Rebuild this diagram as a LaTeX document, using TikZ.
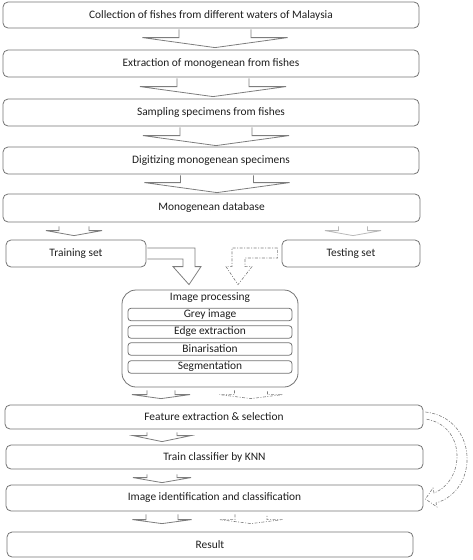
\documentclass[tikz,border=0pt]{standalone}
\usepackage{fontspec}
\setmainfont{Carlito}
\usetikzlibrary{calc}
\definecolor{bordc}{RGB}{115,115,115}
\definecolor{arrc}{RGB}{125,125,125}
\definecolor{lightarr}{RGB}{185,185,185}
\definecolor{txtc}{RGB}{30,30,30}
\tikzset{
  box/.style={draw=bordc, line width=0.8pt, rounded corners=5pt, inner sep=0pt,
    text=txtc, font=\fontsize{11.4}{13}\selectfont},
  subbox/.style={draw=bordc, line width=0.8pt, rounded corners=3pt, inner sep=0pt,
    minimum width=164pt, minimum height=12.5pt, text=txtc, font=\fontsize{11.4}{13}\selectfont},
  barr/.style={draw=arrc, line width=0.8pt, line join=miter},
  barrlight/.style={draw=lightarr, line width=0.8pt},
  dasharr/.style={draw=arrc, line width=0.6pt, dash pattern=on 3pt off 1.5pt on 1pt off 1.5pt},
}
% #1 style, #2 from node, #3 to node, #4 centre x, #5 shaft half width,
% #6 head half width, #7 gap below source, #8 head length, #9 gap above target
\newcommand\blockarr[9]{%
  \draw[#1] let \p1=(#2.south), \p2=(#3.north) in
    (#4pt-#5pt,\y1-#7pt) -- (#4pt-#5pt,\y2+#9pt+#8pt) -- (#4pt-#6pt,\y2+#9pt+#8pt)
    -- (#4pt,\y2+#9pt) -- (#4pt+#6pt,\y2+#9pt+#8pt) -- (#4pt+#5pt,\y2+#9pt+#8pt)
    -- (#4pt+#5pt,\y1-#7pt);}
\begin{document}
\begin{tikzpicture}[x=1pt,y=-1pt]
\useasboundingbox (0,0) rectangle (472,560);

% main boxes
\node[box, minimum width=416pt, minimum height=26pt] (b1) at (211,15) {Collection of fishes from different waters of Malaysia};
\node[box, minimum width=416pt, minimum height=27pt] (b2) at (211,63.5) {Extraction of monogenean from fishes};
\node[box, minimum width=416pt, minimum height=27pt] (b3) at (211,112.5) {Sampling specimens from fishes};
\node[box, minimum width=416pt, minimum height=27pt] (b4) at (211,160.5) {Digitizing monogenean specimens};
\node[box, minimum width=417pt, minimum height=28pt] (b5) at (211.5,208) {Monogenean database};
\node[box, minimum width=140pt, minimum height=27pt] (train) at (76,253.5) {Training set};
\node[box, minimum width=138pt, minimum height=27pt] (test) at (351,253.5) {Testing set};

% image processing group
\node[box, rounded corners=14pt, minimum width=176pt, minimum height=97pt] (ip) at (210,338.5) {};
\node[text=txtc, font=\fontsize{11.4}{13}\selectfont, inner sep=0pt] (iptitle) at (210,298) {Image processing};
\node[subbox] (grey) at (210,314.5) {Grey image};
\node[subbox] (edge) at (210,332) {Edge extraction};
\node[subbox] (bin) at (210,349) {Binarisation};
\node[subbox] (seg) at (210,367) {Segmentation};

\node[box, minimum width=418pt, minimum height=24pt] (feat) at (214,417) {Feature extraction \& selection};
\node[box, minimum width=417pt, minimum height=24pt] (knn) at (214.5,457) {Train classifier by KNN};
\node[box, minimum width=417pt, minimum height=26pt] (ident) at (214.5,498) {Image identification and classification};
\node[box, minimum width=406pt, minimum height=25pt] (res) at (210,544.5) {Result};

% straight block arrows
\blockarr{barr}{b1}{b2}{215}{36}{72.5}{1}{10}{2}
\blockarr{barr}{b2}{b3}{213}{36}{73}{1}{10}{2}
\blockarr{barr}{b3}{b4}{216}{36}{73}{1}{10}{1}
\blockarr{barr}{b4}{b5}{217}{36.5}{72.5}{1}{10}{1}
\blockarr{barr}{b5}{train}{74}{15}{28}{4}{5}{4}
\blockarr{barrlight}{b5}{test}{353}{14.5}{28}{4}{5}{4}
\blockarr{barr}{ip}{feat}{161}{14}{29}{3}{4}{6}
\blockarr{dasharr}{ip}{feat}{251}{16.5}{31.5}{3}{4}{6}
\blockarr{barr}{feat}{knn}{162}{15}{29}{3}{6}{3}
\blockarr{barr}{knn}{ident}{162}{15}{29}{5}{5}{2}
\blockarr{barr}{ident}{res}{162}{16}{29.5}{3}{4}{8}
\blockarr{dasharr}{ident}{res}{251}{16}{31.5}{3}{4}{8}

% bent arrow from training set
\draw[barr] let \p1=(train.east), \p2=(ip.north) in
  (\x1+1pt,\y1+5.5pt) -- (195pt,\y1+5.5pt) -- (195pt,\y2+23pt) -- (201pt,\y2+23pt)
  -- (189pt,\y2+5pt) -- (173pt,\y2+23pt) -- (183pt,\y2+23pt) -- (183pt,\y1-5.5pt)
  -- (\x1+1pt,\y1-5.5pt);

% dashed bent arrow from testing set
\draw[dasharr] let \p1=(test.west), \p2=(ip.north) in
  (\x1-4pt,\y1+5.5pt) -- (232pt,\y1+5.5pt) -- (232pt,\y2+23pt) -- (226pt,\y2+23pt)
  -- (238pt,\y2+5pt) -- (252pt,\y2+23pt) -- (245pt,\y2+23pt) -- (245pt,\y1-4.5pt)
  -- (\x1-4pt,\y1-4.5pt) -- cycle;

% curved hollow dashed arrow
\draw[dasharr] ($(feat.east)+(2,-5)$) .. controls (478,418) and (480,490) .. (436,503)
  -- (437,507) -- ($(ident.east)+(2,1)$) -- (433,488) -- (434,493)
  .. controls (466,480) and (466,425) .. ($(feat.east)+(2,2)$);
\end{tikzpicture}
\end{document}
